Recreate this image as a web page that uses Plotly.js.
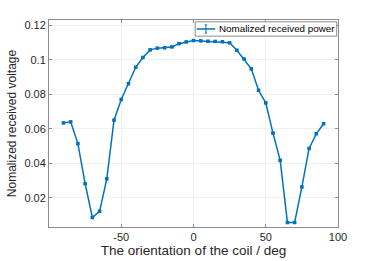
<!DOCTYPE html>
<html><head><meta charset="utf-8">
<script src="https://cdn.plot.ly/plotly-3.0.1.min.js"></script>
<style>html,body{margin:0;padding:0;background:#fff}#c{width:374px;height:261px}</style>
</head><body><div id="c"></div>
<script>
const angles = [-90,-85,-80,-75,-70,-65,-60,-55,-50,-45,-40,-35,-30,-25,-20,-15,-10,-5,0,5,10,15,20,25,30,35,40,45,50,55,60,65,70,75,80,85,90];
const voltage = [0.0634,0.0640,0.0514,0.0282,0.0086,0.0122,0.0310,0.0650,0.0770,0.0861,0.0956,0.1013,0.1057,0.1067,0.1069,0.1074,0.1093,0.1103,0.1111,0.1109,0.1107,0.1106,0.1104,0.1098,0.1055,0.1004,0.0947,0.0823,0.0750,0.0575,0.0417,0.0057,0.0057,0.0263,0.0486,0.0571,0.0629];
const xTicks = [-50,0,50,100];
const yTicks = [0.02,0.04,0.06,0.08,0.1,0.12];
const yTickText = ['0.02','0.04','0.06','0.08','0.1','0.12'];
const seriesName = 'Nomalized received power';

const FONT = 'Liberation Sans, Arial, sans-serif';
const axisCommon = {
  showline:true, mirror:'ticks', linecolor:'#8c8c8c', linewidth:1,
  ticks:'inside', ticklen:3, tickcolor:'#8c8c8c', tickwidth:1,
  showgrid:true, gridcolor:'#ebebeb', gridwidth:0.7, zeroline:false,
  tickfont:{family:FONT, size:11, color:'#262626'}
};
const blue = '#0072BD';
const trace = {
  x: angles, y: voltage, type:'scatter', mode:'lines+markers', name: seriesName,
  line:{color:blue, width:1.5},
  marker:{color:blue, size:3.5, symbol:'square'},
  error_y:{type:'constant', value:0.0004, color:blue, thickness:1, width:1.5},
  showlegend:false
};
// legend drawn as box + icon + text (tight, MATLAB-like)
const lg = {x0:0.506, x1:0.9955, y0:0.922, y1:0.9913, iconX0:0.511, iconX1:0.575, iconY:0.9566, textX:0.581};
const mid = (lg.iconX0+lg.iconX1)/2;
const shapes = [
  {type:'rect', xref:'paper', yref:'paper', x0:lg.x0, x1:lg.x1, y0:lg.y0, y1:lg.y1,
   fillcolor:'#fff', line:{color:'#8c8c8c', width:1}, layer:'above'},
  {type:'line', xref:'paper', yref:'paper', x0:lg.iconX0, x1:lg.iconX1, y0:lg.iconY, y1:lg.iconY,
   line:{color:blue, width:1.5}, layer:'above'},
  {type:'line', xref:'paper', yref:'paper', x0:mid, x1:mid, y0:lg.iconY-0.02, y1:lg.iconY+0.02,
   line:{color:blue, width:1}, layer:'above'},
  {type:'line', xref:'paper', yref:'paper', x0:mid-0.004, x1:mid+0.004, y0:lg.iconY-0.02, y1:lg.iconY-0.02,
   line:{color:blue, width:1}, layer:'above'},
  {type:'line', xref:'paper', yref:'paper', x0:mid-0.004, x1:mid+0.004, y0:lg.iconY+0.02, y1:lg.iconY+0.02,
   line:{color:blue, width:1}, layer:'above'}
];
const annotations = [
  {xref:'paper', yref:'paper', x:lg.textX, y:lg.iconY, xanchor:'left', yanchor:'middle', showarrow:false,
   text:seriesName, font:{family:FONT, size:9.8, color:'#000'}}
];
const layout = {
  width:374, height:261,
  margin:{l:48.5, r:36, t:19.5, b:34},
  paper_bgcolor:'#fff', plot_bgcolor:'#fff',
  xaxis: Object.assign({}, axisCommon, {
    range:[-100,100], tickvals:xTicks, ticktext:xTicks.map(String),
    title:{text:'The orientation of the coil / deg', font:{family:FONT, size:13.5, color:'#262626'}, standoff:0}
  }),
  yaxis: Object.assign({}, axisCommon, {
    range:[0.0031,0.123], tickvals:yTicks, ticktext:yTickText,
    title:{text:'Nomalized received voltage', font:{family:FONT, size:12, color:'#262626'}, standoff:5}
  }),
  shapes: shapes, annotations: annotations,
  showlegend:false
};
Plotly.newPlot('c',[trace],layout,{displayModeBar:false, staticPlot:true});
</script></body></html>
